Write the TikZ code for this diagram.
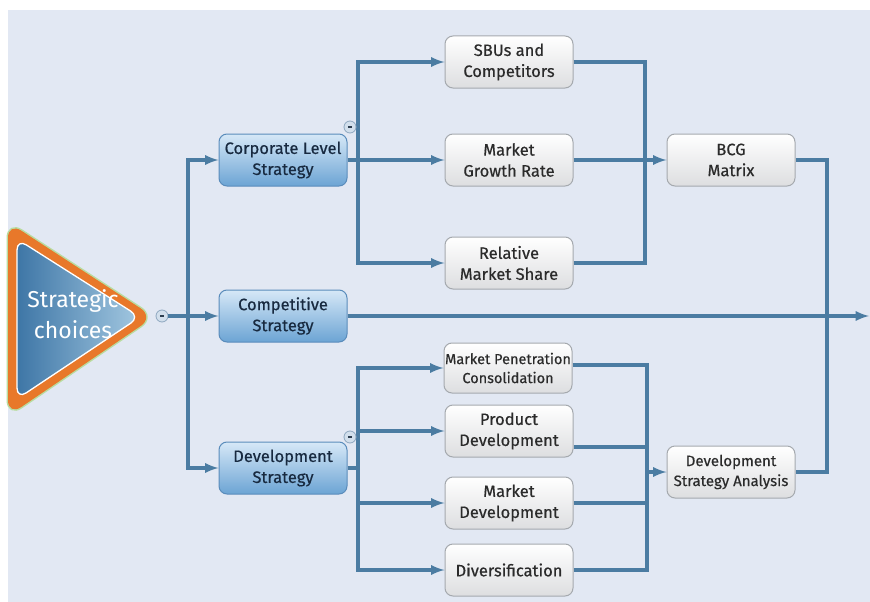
\documentclass[tikz,border=0pt]{standalone}
\usepackage{xcolor}
\usepackage{fontspec}
\setmainfont{Fira Sans}
\newfontfamily\boxfont{Fira Sans}[FakeBold=0.5]
\usepackage{tikz}
\usetikzlibrary{positioning,arrows,calc}

\definecolor{bgpanel}{HTML}{E2E8F3}
\definecolor{linkblue}{HTML}{4B7CA2}
\definecolor{topictop}{HTML}{D6E8F7}
\definecolor{topicbot}{HTML}{6CA4D4}
\definecolor{topicedge}{HTML}{5A8CBB}
\definecolor{topictext}{HTML}{182A40}
\definecolor{subbot}{HTML}{DDDEE0}
\definecolor{subedge}{HTML}{A5A9AE}
\definecolor{subtext}{HTML}{2B2B2B}
\definecolor{rootorange}{HTML}{E8782A}
\definecolor{rootglow}{HTML}{B9DCA0}
\definecolor{rootdark}{HTML}{3E76A6}
\definecolor{rootlight}{HTML}{A3C8E1}
\definecolor{collapsefill}{HTML}{D2DFEC}
\definecolor{collapseedge}{HTML}{8FA8C0}
\definecolor{minusdark}{HTML}{2D3E50}

\begin{document}
\begin{tikzpicture}[x=1pt,y=-1pt,
  topic/.style={draw=topicedge,line width=1pt,rounded corners=8pt,
    top color=topictop,bottom color=topicbot,minimum width=128pt,
    minimum height=52pt,align=center,text=topictext,inner sep=1pt,
    font=\boxfont\fontsize{16.5}{21}\selectfont},
  subtopic/.style={draw=subedge,line width=1pt,rounded corners=8pt,
    top color=white,bottom color=subbot,minimum width=128pt,
    minimum height=52pt,align=center,text=subtext,inner sep=1pt,
    font=\boxfont\fontsize{16.5}{21}\selectfont},
  link/.style={draw=linkblue,line width=3.5pt},
  collapse/.style={circle,draw=collapseedge,fill=collapsefill,
    line width=0.8pt,minimum size=12pt,inner sep=0pt}]
\useasboundingbox (0,0) rectangle (870,602);
\fill[white] (0,0) rectangle (870,602);
\fill[bgpanel] (8,10) rectangle (870,602);

% root triangle
\draw[rootglow,line width=3pt,rounded corners=16pt] (8,222) -- (154,317) -- (8,416) -- cycle;
\fill[rootorange,rounded corners=16pt] (8,222) -- (154,317) -- (8,416) -- cycle;
\draw[white,line width=1.3pt,rounded corners=11pt,left color=rootdark,right color=rootlight]
  (17,239) -- (140,317) -- (17,399) -- cycle;
\node[text=white,align=center,font=\fontsize{23}{31}\selectfont] (root) at (73,314) {Strategic\\choices};
\node[collapse] (m0) at (162,316) {\textcolor{minusdark}{\rule{4.5pt}{1.6pt}}};

% first level
\node[topic] (corp) at (283,160) {Corporate Level\\Strategy};
\node[topic] (comp) at (283,316) {Competitive\\Strategy};
\node[topic] (dev) at (283,468) {Development\\Strategy};

% second level
\foreach \name/\ypos/\txt in {sbu/62/{SBUs and\\Competitors},mgr/160/{Market\\Growth Rate},
  rms/263/{Relative\\Market Share},pd/431/{Product\\Development},
  md/503/{Market\\Development},div/570/{Diversification}}
  \node[subtopic] (\name) at (509,\ypos) {\txt};
\node[subtopic,minimum height=50pt,font=\boxfont\fontsize{14.5}{19}\selectfont] (mpc) at (508,368) {Market Penetration\\Consolidation};

% analysis boxes
\node[subtopic] (bcg) at (731,160) {BCG\\Matrix};
\node[subtopic,font=\boxfont\fontsize{15}{20}\selectfont] (dsa) at (731,472) {Development\\Strategy Analysis};

% root connectors
\coordinate (lbus) at (188,316);
\draw[link,-latex] (m0) -- (comp);
\draw[link,-latex] (lbus) |- (corp.west);
\draw[link,-latex] (lbus) |- (dev.west);

% corporate branch
\coordinate (cbus) at (358,160);
\coordinate (crbus) at (645,160);
\draw[link] (corp.east) -- (cbus);
\foreach \n in {sbu,mgr,rms}
  \draw[link,-latex] (cbus) |- (\n.west);
\foreach \n in {sbu,rms}
  \draw[link] (\n.east) -| (crbus);
\draw[link,-latex] (mgr.east) -- (bcg.west);

% competitive branch
\coordinate (exit) at (869,316);
\draw[link,-latex] (comp.east) -- (exit);

% development branch
\coordinate (dbus) at (358,468);
\coordinate (drbus) at (647,472);
\draw[link] (dev.east) -- (dbus);
\foreach \n in {mpc,pd,md,div}
  \draw[link,-latex] (dbus) |- (\n.west);
\draw[link] ([yshift=3pt]mpc.east) -| (drbus);
\draw[link] ([yshift=-16pt]pd.east) -| (drbus);
\foreach \n in {md,div}
  \draw[link] (\n.east) -| (drbus);
\draw[link,-latex] (drbus) -- (dsa.west);

% bcg joins the analysis
\coordinate (obus) at (827,316);
\draw[link] (bcg.east) -| (obus) |- (dsa.east);

% collapse buttons
\node[collapse] (m1) at (350,127) {\textcolor{minusdark}{\rule{4.5pt}{1.6pt}}};
\node[collapse] (m3) at (350,437) {\textcolor{minusdark}{\rule{4.5pt}{1.6pt}}};
\end{tikzpicture}
\end{document}
